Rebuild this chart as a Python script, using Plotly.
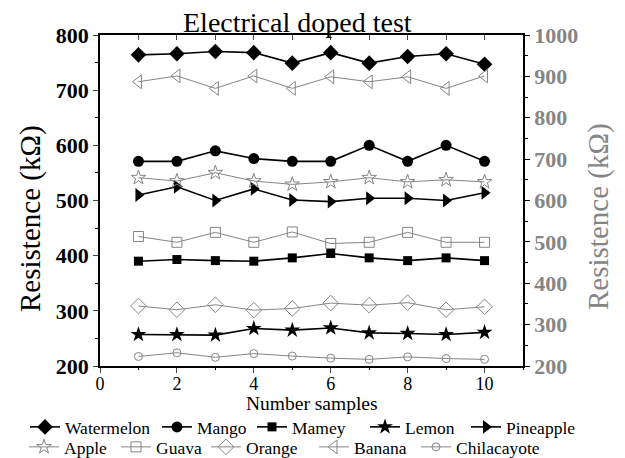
import plotly.graph_objects as go

samples = [1, 2, 3, 4, 5, 6, 7, 8, 9, 10]

# Left axis (black series), kΩ
watermelon = [764, 766, 770, 768, 749, 768, 749, 761, 766, 747]
mango = [571, 571, 590, 576, 571, 571, 600, 571, 600, 571]
mamey = [390, 393, 391, 390, 396, 404, 396, 391, 396, 391]
lemon = [257, 257, 256, 268, 265, 269, 260, 259, 257, 261]
pineapple = [510, 525, 500, 521, 501, 498, 504, 504, 500, 514]

# Right axis (gray series), kΩ
apple = [655, 647, 667, 647, 639, 645, 655, 645, 650, 645]
guava = [513, 499, 523, 499, 524, 496, 499, 523, 499, 499]
orange = [345, 336, 348, 335, 339, 352, 347, 353, 336, 343]
banana = [887, 901, 871, 901, 871, 899, 887, 899, 871, 901]
chilacayote = [223, 232, 221, 230, 224, 219, 216, 222, 218, 216]

FONT = "Liberation Serif"
GRAY = "#858585"

# plot-area pixel box
L, R, T, B = 100, 523, 35, 366
PW, PH = R - L, B - T

# legend entry layout: (text start px, row centre px)
row1_text_x = [67, 199, 294, 407, 508]
row2_text_x = [66, 158, 248, 356, 458]
ROW1_Y, ROW2_Y = 427, 447

fig = go.Figure()

black_series = [
    ("Watermelon", watermelon, "diamond", 12),
    ("Mango", mango, "circle", 11),
    ("Mamey", mamey, "square", 9),
    ("Lemon", lemon, "star", 12),
    ("Pineapple", pineapple, "triangle-right", 12),
]
gray_series = [
    ("Apple", apple, "star-open", 11),
    ("Guava", guava, "square-open", 10),
    ("Orange", orange, "diamond-open", 12),
    ("Banana", banana, "triangle-left-open", 12),
    ("Chilacayote", chilacayote, "circle-open", 8),
]

legend_layouts = {}
idx = 0
for i, (name, vals, sym, sz) in enumerate(black_series):
    idx += 1
    key = "legend" if idx == 1 else f"legend{idx}"
    fig.add_trace(go.Scatter(
        x=samples, y=vals, name=name, mode="lines+markers",
        line=dict(color="black", width=1.6),
        marker=dict(symbol=sym, size=sz, color="black"),
        xaxis="x", yaxis="y", legend=key,
    ))
    legend_layouts[key] = (row1_text_x[i], ROW1_Y)

for i, (name, vals, sym, sz) in enumerate(gray_series):
    idx += 1
    key = f"legend{idx}"
    fig.add_trace(go.Scatter(
        x=samples, y=vals, name=name, mode="lines+markers",
        line=dict(color=GRAY, width=1),
        marker=dict(symbol=sym, size=sz, color=GRAY, line=dict(color=GRAY, width=1)),
        xaxis="x2", yaxis="y2", legend=key,
    ))
    legend_layouts[key] = (row2_text_x[i], ROW2_Y)

layout_legends = {}
for key, (tx, ty) in legend_layouts.items():
    layout_legends[key] = dict(
        orientation="h", xref="paper", yref="paper",
        x=(tx - 42 - L) / PW, y=-(ty - B) / PH, xanchor="left", yanchor="middle",
        font=dict(family=FONT, size=17.5, color="black"),
        bgcolor="rgba(0,0,0,0)", itemwidth=30,
    )

fig.update_layout(
    width=625, height=458,
    margin=dict(l=L, r=625 - R, t=T, b=458 - B, autoexpand=False),
    paper_bgcolor="white", plot_bgcolor="white",
    font=dict(family=FONT, color="black"),
    showlegend=True,
    xaxis=dict(
        range=[0, 11], dtick=2, tick0=0, ticks="outside", ticklen=5, tickwidth=1.3,
        minor=dict(dtick=1, ticks="outside", ticklen=2, tickwidth=1.1, tickcolor="black"),
        showline=True, linecolor="black", linewidth=1.5, showgrid=False, zeroline=False,
        tickfont=dict(family=FONT, size=18, color="black"), ticklabelstandoff=-4,
    ),
    xaxis2=dict(
        range=[0, 11], dtick=1, tick0=0, overlaying="x", side="top", anchor="y2",
        ticks="inside", ticklen=5, tickwidth=1.3, showticklabels=False,
        showline=True, linecolor="black", linewidth=1.5, showgrid=False, zeroline=False,
    ),
    yaxis=dict(
        range=[200, 800], dtick=100, ticks="outside", ticklen=5, tickwidth=1.3,
        minor=dict(dtick=50, ticks="outside", ticklen=3, tickwidth=1.1, tickcolor="black"),
        showline=True, linecolor="black", linewidth=1.5, showgrid=False, zeroline=False,
        tickfont=dict(family=FONT, size=22, color="black", weight="bold"),
    ),
    yaxis2=dict(
        range=[200, 1000], dtick=100, overlaying="y", side="right", anchor="x",
        ticks="outside", ticklen=5, tickwidth=1.3, tickcolor="black",
        minor=dict(dtick=50, ticks="outside", ticklen=3, tickwidth=1.1, tickcolor="black"),
        showline=True, linecolor="black", linewidth=1.5, showgrid=False, zeroline=False,
        tickfont=dict(family=FONT, size=22, color=GRAY, weight="bold"),
    ),
    annotations=[
        dict(text="Electrical doped test", xref="paper", yref="paper",
             x=(297 - L) / PW, y=1 + (T - 22) / PH, xanchor="center", yanchor="middle",
             showarrow=False, font=dict(family=FONT, size=28, color="black")),
        dict(text="Number samples", xref="paper", yref="paper",
             x=(312 - L) / PW, y=-(403 - B) / PH, xanchor="center", yanchor="middle",
             showarrow=False, font=dict(family=FONT, size=19.5, color="black")),
        dict(text="Resistence (kΩ)", xref="paper", yref="paper",
             x=-(L - 30) / PW, y=(B - 219) / PH, xanchor="center", yanchor="middle",
             textangle=-90, showarrow=False, font=dict(family=FONT, size=29, color="black")),
        dict(text="Resistence (kΩ)", xref="paper", yref="paper",
             x=1 + (598 - R) / PW, y=(B - 217) / PH, xanchor="center", yanchor="middle",
             textangle=-90, showarrow=False, font=dict(family=FONT, size=29, color=GRAY)),
    ],
    **layout_legends,
)

fig.write_html("out.html")
